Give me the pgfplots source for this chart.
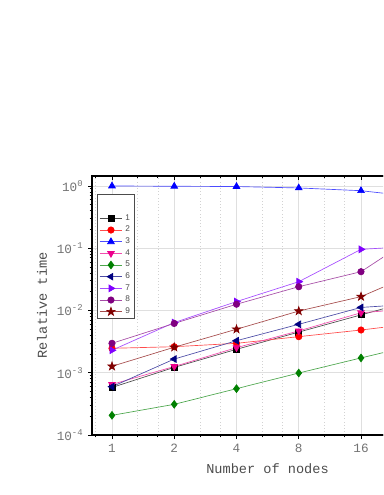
\documentclass[border=0pt]{standalone}
\usepackage{fontspec}
\setmainfont{Liberation Mono}
\newfontfamily\legfont{Liberation Sans}
\usepackage{pgfplots}
\pgfplotsset{compat=1.18}

% filled five-pointed star
\pgfdeclareplotmark{fstar}{%
  \pgfpathmoveto{\pgfqpointpolar{90}{1.25\pgfplotmarksize}}%
  \pgfpathlineto{\pgfqpointpolar{126}{0.5\pgfplotmarksize}}%
  \pgfpathlineto{\pgfqpointpolar{162}{1.25\pgfplotmarksize}}%
  \pgfpathlineto{\pgfqpointpolar{198}{0.5\pgfplotmarksize}}%
  \pgfpathlineto{\pgfqpointpolar{234}{1.25\pgfplotmarksize}}%
  \pgfpathlineto{\pgfqpointpolar{270}{0.5\pgfplotmarksize}}%
  \pgfpathlineto{\pgfqpointpolar{306}{1.25\pgfplotmarksize}}%
  \pgfpathlineto{\pgfqpointpolar{342}{0.5\pgfplotmarksize}}%
  \pgfpathlineto{\pgfqpointpolar{18}{1.25\pgfplotmarksize}}%
  \pgfpathlineto{\pgfqpointpolar{54}{0.5\pgfplotmarksize}}%
  \pgfpathclose\pgfusepathqfillstroke}

\definecolor{cgreen}{RGB}{0,128,0}
\definecolor{cnavy}{RGB}{0,0,128}
\definecolor{cviolet}{RGB}{128,0,255}
\definecolor{cpurple}{RGB}{128,0,128}
\definecolor{cdred}{RGB}{128,0,0}

% x is log2(number of nodes): 0=1, 1=2, 2=4, 3=8, 4=16, 5=32
\begin{document}
\begin{tikzpicture}
\begin{scope}
\clip (0,0) rectangle (287.25pt,371.25pt);
\begin{axis}[
    scale only axis,
    width=263.25pt, height=194.25pt,
    at={(69pt,45pt)}, anchor=south west,
    ymode=log,
    xmin=-0.321, xmax=5.317, ymin=1e-4, ymax=1.447,
    xtick={0,1,2,3,4},
    xticklabels={1,2,4,8,16},
    minor xtick={-0.263,0.415,0.737,1.415,1.737,2.415,2.737,3.415,3.737,4.415,4.737},
    axis line style={line width=0.8pt},
    major tick length=3pt, minor tick length=1.8pt,
    ytick={1e-4,1e-3,1e-2,1e-1,1},
    yticklabels={10\textsuperscript{-4},10\textsuperscript{-3},10\textsuperscript{-2},10\textsuperscript{-1},10\textsuperscript{0}},
    minor ytick={2e-4,3e-4,4e-4,5e-4,6e-4,7e-4,8e-4,9e-4,
                 2e-3,3e-3,4e-3,5e-3,6e-3,7e-3,8e-3,9e-3,
                 2e-2,3e-2,4e-2,5e-2,6e-2,7e-2,8e-2,9e-2,
                 0.2,0.3,0.4,0.5,0.6,0.7,0.8,0.9},
    xtick pos=left, ytick pos=left,
    tick align=outside,
    tick style={black, line width=0.6pt},
    xmajorgrids, ymajorgrids, xminorgrids,
    major grid style={gray!25, line width=0.6pt},
    minor grid style={gray!35, dotted, line width=0.5pt},
    tick label style={font=\fontsize{9.5}{10}\selectfont, text=black!55},
    xlabel={Number of nodes},
    ylabel={Relative time},
    label style={font=\fontsize{10.2}{11}\selectfont, text=black!70},
    every axis x label/.append style={at={(axis description cs:0.5,-0.131)}, anchor=center},
    every axis y label/.append style={at={(axis description cs:-0.1425,0.5)}, anchor=center},
    legend style={at={(0.014,0.93)}, anchor=north west,
      draw=black!70, line width=0.5pt,
      font=\legfont\fontsize{6.2}{7}\selectfont\color{black!70},
      nodes={inner ysep=0.6pt},
      row sep=1.75pt, inner xsep=1.5pt, inner ysep=1.2pt,
      cells={anchor=west}},
]
\addlegendimage{empty legend}\addlegendentry{\rule{0pt}{8.8pt}}

\addplot[color=black!70!white, line width=0.5pt, mark=square*, mark size=2.2pt,
  mark options={solid, fill=black, draw=black}] coordinates {
  (0,0.00058) (1,0.00122) (2,0.00238) (3,0.0045) (4,0.0085) (5,0.016)};
\addlegendentry{1}
\addplot[color=red!70!white, line width=0.5pt, mark=*, mark size=2.4pt,
  mark options={solid, fill=red, draw=red}] coordinates {
  (0,0.00247) (1,0.00262) (2,0.00297) (3,0.0038) (4,0.00486) (5,0.0064)};
\addlegendentry{2}
\addplot[color=blue!70!white, line width=0.5pt, mark=triangle*, mark size=2.9pt,
  mark options={solid, fill=blue, draw=blue}] coordinates {
  (0,1.0) (1,0.99) (2,0.98) (3,0.93) (4,0.84) (5,0.65)};
\addlegendentry{3}
\addplot[color=magenta!70!white, line width=0.5pt, mark=triangle*, mark size=2.9pt,
  mark options={solid, fill=magenta, draw=magenta, rotate=180}] coordinates {
  (0,0.00065) (1,0.00126) (2,0.00253) (3,0.0047) (4,0.0092) (5,0.011)};
\addlegendentry{4}
\addplot[color=cgreen!70!white, line width=0.5pt, mark=diamond*, mark size=2.9pt,
  mark options={solid, fill=cgreen, draw=cgreen}] coordinates {
  (0,0.000207) (1,0.000311) (2,0.000555) (3,0.00099) (4,0.00173) (5,0.003)};
\addlegendentry{5}
\addplot[color=cnavy!70!white, line width=0.5pt, mark=triangle*, mark size=2.9pt,
  mark options={solid, fill=cnavy, draw=cnavy, rotate=90}] coordinates {
  (0,0.000597) (1,0.00166) (2,0.00327) (3,0.006) (4,0.0112) (5,0.013)};
\addlegendentry{6}
\addplot[color=cviolet!70!white, line width=0.5pt, mark=triangle*, mark size=2.9pt,
  mark options={solid, fill=cviolet, draw=cviolet, rotate=-90}] coordinates {
  (0,0.0023) (1,0.0064) (2,0.0139) (3,0.029) (4,0.096) (5,0.11)};
\addlegendentry{7}
\addplot[color=cpurple!70!white, line width=0.5pt, mark=*, mark size=2.4pt,
  mark options={solid, fill=cpurple, draw=cpurple}] coordinates {
  (0,0.00297) (1,0.0062) (2,0.0126) (3,0.0241) (4,0.042) (5,0.19)};
\addlegendentry{8}
\addplot[color=cdred!70!white, line width=0.5pt, mark=fstar, mark size=2.6pt,
  mark options={solid, fill=cdred, draw=cdred}] coordinates {
  (0,0.00127) (1,0.00257) (2,0.005) (3,0.0098) (4,0.0167) (5,0.045)};
\addlegendentry{9}
\end{axis}
% top ticks point inward
\begin{axis}[
    scale only axis,
    width=263.25pt, height=194.25pt,
    at={(69pt,45pt)}, anchor=south west,
    ymode=log,
    xmin=-0.321, xmax=5.317, ymin=1e-4, ymax=1.447,
    xtick={0,1,2,3,4,5},
    minor xtick={-0.263,0.415,0.737,1.415,1.737,2.415,2.737,3.415,3.737,4.415,4.737},
    axis line style={line width=0.8pt},
    major tick length=3pt, minor tick length=1.8pt,
    tick style={black, line width=0.6pt},
    xtick pos=right, tick align=inside,
    xticklabels={}, ytick=\empty, yminorticks=false,
]
\end{axis}
\end{scope}
\pgfresetboundingbox
\useasboundingbox (0,0) rectangle (287.25pt,371.25pt);
\end{tikzpicture}
\end{document}
